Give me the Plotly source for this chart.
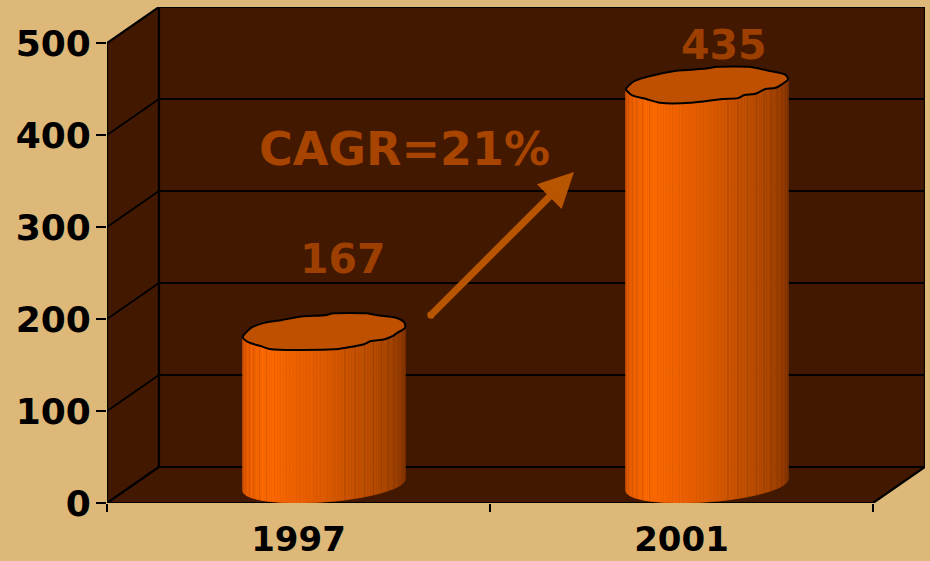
import math
import plotly.graph_objects as go

# ---- data ----
categories = ["1997", "2001"]
values = [167, 435]
y_ticks = [0, 100, 200, 300, 400, 500]
cagr_label = "CAGR=21%"

# ---- styles / geometry ----
W, H = 930, 561
L, R, T, B = 107, 5, 7, 58
PX_PER_UNIT_Y = 0.92
PX_PER_CAT = 383.0
DEPTH_PX_X, DEPTH_PX_Y = 52.0, 36.0
BG = "#DDB878"
WALL = "#431800"
TOP = "#BF5000"
TEXT_ORANGE = "#A64400"
VALUE_ORANGE = "#9C3F00"
ARROW = "#B85500"
TICK_FONT = "DejaVu Sans"

# hand-traced outline of each cylinder's top (normalised to its half extents)
OUTLINES = [
    [(-1.0, 0.27), (-0.9, -0.19), (-0.74, -0.47), (-0.53, -0.62), (-0.28, -0.83), (0.0, -0.89),
     (0.12, -1.0), (0.53, -1.0), (0.66, -0.89), (0.9, -0.74), (0.995, -0.47), (1.0, -0.19),
     (0.905, 0.08), (0.845, 0.27), (0.74, 0.45), (0.58, 0.54), (0.495, 0.72), (0.27, 0.91),
     (0.125, 1.0), (-0.655, 1.0), (-0.78, 0.82), (-0.92, 0.63), (-1.0, 0.36), (-1.0, 0.27)],
    [(-1.0, 0.22), (-0.91, -0.17), (-0.75, -0.43), (-0.38, -0.78), (-0.01, -0.90), (0.13, -1.0),
     (0.52, -1.0), (0.76, -0.78), (0.97, -0.55), (1.0, -0.30), (0.93, -0.04), (0.84, 0.18),
     (0.72, 0.23), (0.6, 0.50), (0.46, 0.57), (0.38, 0.74), (0.19, 0.79), (-0.2, 1.0),
     (-0.58, 1.0), (-0.75, 0.79), (-0.93, 0.57), (-1.0, 0.27), (-1.0, 0.22)],
]

x_min = -0.5
x_max = x_min + (W - L - R) / PX_PER_CAT
y_max = (H - B - T) / PX_PER_UNIT_Y
y_top = y_ticks[-1]
DX = DEPTH_PX_X / PX_PER_CAT
DY = DEPTH_PX_Y / PX_PER_UNIT_Y
x_right = x_min + len(categories)


def proj(x, y, d=0.0):
    return x + d * DX, y + d * DY


fig = go.Figure()


def poly(pts, fill=None, line=None, width=0.0, shape="linear"):
    xs = [p[0] for p in pts]
    ys = [p[1] for p in pts]
    fig.add_trace(go.Scatter(
        x=xs, y=ys, mode="lines",
        fill="toself" if fill else None, fillcolor=fill,
        line=dict(color=line or fill or "rgba(0,0,0,0)", width=width, shape=shape, smoothing=0.7),
        hoverinfo="skip", showlegend=False, cliponaxis=False))


# walls
poly([proj(x_min, 0), proj(x_min, 0, 1), proj(x_min, y_top, 1), proj(x_min, y_top), proj(x_min, 0)],
     fill=WALL, line="#000000", width=2.2)
poly([proj(x_min, 0, 1), proj(x_right, 0, 1), proj(x_right, y_top, 1), proj(x_min, y_top, 1), proj(x_min, 0, 1)],
     fill=WALL, line="#000000", width=2.2)
poly([proj(x_min, 0), proj(x_right, 0), proj(x_right, 0, 1), proj(x_min, 0, 1), proj(x_min, 0)],
     fill=WALL, line="#000000", width=2.2)
for v in y_ticks[1:-1]:
    poly([proj(x_min, v), proj(x_min, v, 1), proj(x_right, v, 1)], line="#000000", width=1.8)

# cylinders
R_PX = 81.0
CENTER_SHIFT_PX = -0.5
HALF_DX_PX, HALF_DY_PX = DEPTH_PX_X / 2, DEPTH_PX_Y / 2
HX_PX = math.sqrt(R_PX ** 2 - HALF_DX_PX ** 2)
PHI = math.atan2(HALF_DX_PX, HX_PX)
SHADE = [(180, (0xE0, 0x5C, 0x00)), (200, (0xF2, 0x62, 0x00)), (225, (0xFF, 0x6A, 0x00)),
         (260, (0xE6, 0x5E, 0x00)), (290, (0xC9, 0x53, 0x00)), (320, (0xAC, 0x47, 0x00)),
         (345, (0x96, 0x3D, 0x00)), (360, (0x8A, 0x38, 0x00))]
EDGE_STEP = 7.5
EDGE_LEFT_END = 232
EDGE_RIGHT_START = 282
TOP_RAISE_PX = 7.0


def shade(deg):
    for (a, ca), (b, cb) in zip(SHADE, SHADE[1:]):
        if a <= deg <= b:
            f = (deg - a) / (b - a)
            return tuple(int(round(ca[i] + (cb[i] - ca[i]) * f)) for i in range(3))
    return SHADE[-1][1]


def hexc(c):
    return "#%02X%02X%02X" % c


def center_x(cat_i):
    return cat_i + 0.5 * DX + CENTER_SHIFT_PX / PX_PER_CAT


def ellipse_pt(cat_i, val, deg):
    t = math.radians(deg) + PHI
    cx = center_x(cat_i) + (HX_PX * math.cos(t) + HALF_DX_PX * math.sin(t)) / PX_PER_CAT
    cy = val + 0.5 * DY + (HALF_DY_PX * math.sin(t)) / PX_PER_UNIT_Y
    return cx, cy


def strip_top(cat_i, val, deg):
    x, y = ellipse_pt(cat_i, val, deg)
    return x, y + TOP_RAISE_PX * abs(math.sin(math.radians(deg))) / PX_PER_UNIT_Y


STRIPS = 72
for i, v in enumerate(values):
    for s in range(STRIPS):
        a = 180 + s * 180 / STRIPS
        b = 180 + (s + 1) * 180 / STRIPS
        x0, y0 = ellipse_pt(i, 0, a)
        x1, y1 = ellipse_pt(i, 0, b)
        x2, y2 = strip_top(i, v, b)
        x3, y3 = strip_top(i, v, a)
        col = hexc(shade((a + b) / 2))
        poly([(x0, y0), (x1, y1), (x2, y2), (x3, y3), (x0, y0)], fill=col, line=col, width=0.6)
    k = 0
    while 180 + k * EDGE_STEP < 360:
        deg = 180 + k * EDGE_STEP
        k += 1
        if k == 1 or EDGE_LEFT_END < deg < EDGE_RIGHT_START:
            continue
        c = shade(deg)
        dark = hexc(tuple(int(ch * 0.85) for ch in c))
        poly([ellipse_pt(i, 0, deg), strip_top(i, v, deg)], line=dark, width=1.0)
    cx = center_x(i)
    cy = v + 0.5 * DY
    top = [(cx + u * R_PX / PX_PER_CAT, cy - w * HALF_DY_PX / PX_PER_UNIT_Y) for u, w in OUTLINES[i]]
    poly(top, fill=TOP, line="#000000", width=2.0, shape="spline")


def px_x(p):
    return x_min + (p - L) / PX_PER_CAT


def px_y(p):
    return (H - B - p) / PX_PER_UNIT_Y


# value labels above cylinders (offset in px from the cylinder's back rim)
LABEL_OFFSET_PX = [(18, 54), (16, 22)]
for i, v in enumerate(values):
    ox, oy = LABEL_OFFSET_PX[i]
    x = i + 0.5 * DX + ox / PX_PER_CAT
    y = v + DY + oy / PX_PER_UNIT_Y
    fig.add_annotation(x=x, y=y, text=str(v), showarrow=False, xref="x", yref="y",
                       font=dict(family=TICK_FONT, size=41, color=VALUE_ORANGE, weight="bold"))

fig.add_annotation(x=px_x(404), y=px_y(149), text=cagr_label, showarrow=False, xref="x", yref="y",
                   font=dict(family=TICK_FONT, size=46, color=TEXT_ORANGE, weight="bold"))

# growth arrow with a rounded tail
fig.add_trace(go.Scatter(x=[px_x(431)], y=[px_y(315)], mode="markers",
                         marker=dict(size=7.5, color=ARROW, line=dict(width=0)),
                         hoverinfo="skip", showlegend=False))
fig.add_annotation(x=px_x(574), y=px_y(172), ax=px_x(431), ay=px_y(315), axref="x", ayref="y",
                   xref="x", yref="y", text="", showarrow=True, arrowhead=2, arrowsize=1.0,
                   arrowwidth=7, arrowcolor=ARROW)

fig.update_layout(
    width=W, height=H, autosize=False,
    margin=dict(l=L, r=R, t=T, b=B, pad=0),
    paper_bgcolor=BG, plot_bgcolor=BG, showlegend=False,
    xaxis=dict(range=[x_min, x_max], tickmode="array", tickvals=list(range(len(categories))),
               ticktext=categories, ticks="", showgrid=False, zeroline=False, showline=False,
               automargin=False,
               tickfont=dict(family=TICK_FONT, size=34, color="#000000", weight="bold"),
               ticklabelstandoff=13,
               minor=dict(tickmode="array", tickvals=[x_min + k for k in range(len(categories) + 1)],
                          ticks="outside", ticklen=8, tickwidth=1.5, tickcolor="#000000", showgrid=False)),
    yaxis=dict(range=[0, y_max], tickmode="array", tickvals=y_ticks,
               ticks="outside", ticklen=10, tickwidth=1.5, tickcolor="#000000",
               showgrid=False, zeroline=False, showline=False, automargin=False,
               tickfont=dict(family=TICK_FONT, size=36, color="#000000", weight="bold"),
               ticklabelstandoff=-2),
)
fig.write_html("out.html", config={"displayModeBar": False}, post_script=(
    "document.body.style.margin='0';document.body.style.overflow='hidden';"
    "document.documentElement.style.background='%s';" % BG))
